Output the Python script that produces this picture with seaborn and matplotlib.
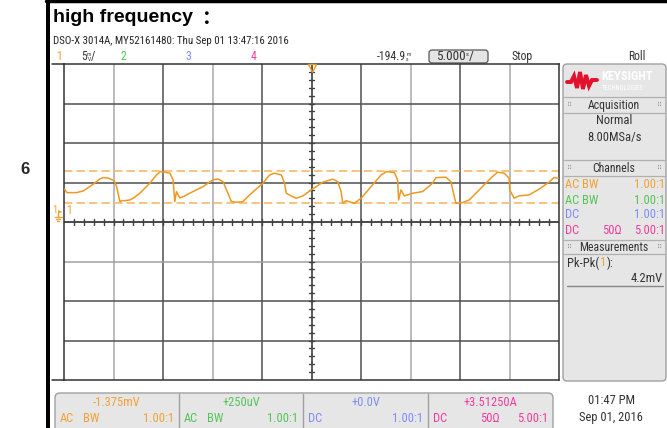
import numpy as np
import pandas as pd
import matplotlib
matplotlib.use("Agg")
import matplotlib.pyplot as plt
import seaborn as sns
from matplotlib.patches import FancyBboxPatch, Rectangle
from matplotlib.lines import Line2D
import logging
logging.getLogger("matplotlib.font_manager").setLevel(logging.ERROR)

time_s = [-24.93, -24.73, -23.72, -23.05, -22.05, -21.37, -21.04, -20.53, -19.93, -19.69,
          -19.35, -19.18, -18.85, -18.35, -18.01, -17.34, -16.33, -15.66, -15.25, -14.82,
          -14.31, -13.98, -13.81, -13.64, -13.31, -12.97, -11.97, -10.96, -9.95, -9.45,
          -8.94, -8.44, -8.09, -7.59, -6.93, -6.25, -4.91, -4.23, -3.73, -3.05,
          -2.72, -2.55, -2.05, -1.54, -0.88, -0.03, 1.14, 2.15, 2.65, 2.99,
          3.16, 3.50, 4.33, 5.01, 6.02, 7.03, 7.59, 8.37, 8.70, 8.80,
          9.04, 9.38, 10.21, 11.22, 12.23, 12.57, 13.58, 14.08, 14.42, 14.59,
          15.25, 15.93, 17.27, 18.11, 18.78, 19.46, 19.96, 20.03, 20.46, 20.97,
          21.98, 22.98, 23.99, 24.50, 24.93]
ch1_mv = [4.15, 3.72, 3.72, 3.93, 4.78, 5.46, 5.62, 5.55, 5.24, 4.48,
          2.58, 2.70, 2.70, 2.79, 3.01, 3.64, 4.91, 5.96, 6.38, 6.31,
          6.18, 5.33, 2.58, 3.85, 3.05, 3.21, 3.85, 4.48, 5.33, 5.46,
          5.11, 3.64, 2.58, 2.50, 2.58, 3.43, 4.91, 5.96, 6.18, 5.96,
          4.91, 3.64, 3.30, 3.01, 3.30, 4.06, 5.04, 5.42, 5.11, 3.85,
          2.37, 2.70, 2.37, 3.01, 4.48, 5.96, 6.38, 6.26, 5.33, 2.79,
          4.06, 3.30, 3.64, 3.85, 4.91, 5.62, 5.67, 5.11, 3.21, 2.37,
          2.45, 2.79, 4.48, 5.55, 6.31, 6.18, 5.55, 4.06, 3.01, 3.30,
          3.43, 4.15, 5.04, 5.62, 5.55]
cursor_mv = [6.51, 2.37]
ground_mv = 1.375

channel_colors = ["#f2a134", "#55c455", "#7f8cf5", "#f23c9c"]
coupling = ["AC BW", "AC BW", "DC", "DC"]
impedance = ["", "", "", "50Ω"]
probe = ["1.00:1", "1.00:1", "1.00:1", "5.00:1"]
offsets = ["-1.375mV", "+250uV", "+0.0V", "+3.51250A"]

title = "high frequency"
title_colon = "："
header = "DSO-X 3014A, MY52161480: Thu Sep 01 13:47:16 2016"
row_label = "6"

# ---------------- styling ----------------
sns.set_theme(style="white")
NARROW = ["Roboto Condensed", "Archivo Narrow", "Barlow Condensed", "DejaVu Sans"]
plt.rcParams["font.family"] = NARROW

W, H = 667, 428
fig = plt.figure(figsize=(W / 100, H / 100), dpi=100)
fig.patch.set_facecolor("white")
renderer = fig.canvas.get_renderer()


def fx(x):
    return x / W


def fy(y):
    return 1 - y / H


def T(x, y, s, size=8, color="#333333", ha="left", **kw):
    return fig.text(fx(x), fy(y), s, fontsize=size, color=color, ha=ha, va="center",
                    zorder=10, **kw)


def chain(x, y, pieces, size=8.5, gap=0.0):
    """place text pieces one after another; pieces = (text, color, dy, size)"""
    for s, col, dy, sz in pieces:
        t = T(x, y + dy, s, size=sz or size, color=col)
        bb = t.get_window_extent(renderer)
        x = bb.x1 + gap


def rbox(x0, y0, x1, y1, r, fc, ec, lw=1.0, z=0):
    p = FancyBboxPatch((x0 / 100, (H - y1) / 100), (x1 - x0) / 100, (y1 - y0) / 100,
                       boxstyle=f"round,pad=0,rounding_size={r / 100}",
                       transform=fig.dpi_scale_trans, fc=fc, ec=ec, lw=lw, zorder=z)
    fig.add_artist(p)


def pline(xs, ys, color, lw=1.0, z=5, **kw):
    fig.add_artist(Line2D([fx(x) for x in xs], [fy(y) for y in ys],
                          transform=fig.transFigure, color=color, lw=lw, zorder=z, **kw))


DARK = "#333333"

# document table borders
fig.add_artist(Rectangle((fx(46), 0), fx(50) - fx(46), 1, transform=fig.transFigure,
                         fc="black", ec="none"))
pline([46, 667], [1, 1], "black", lw=2.5)
fig.text(fx(25), fy(170), row_label, fontsize=12, fontweight="bold", ha="center",
         va="center", family=["Liberation Sans", "DejaVu Sans"])

# title & header
fig.text(fx(53), fy(18), title, fontsize=14, fontweight="bold", ha="left", va="center",
         family=["Liberation Sans", "DejaVu Sans"], color="black")
fig.text(fx(202), fy(18), title_colon, fontsize=14, fontweight="bold", ha="left",
         va="center", family=["Noto Sans CJK SC", "DejaVu Sans"], color="black")
T(53, 41, header, size=7.8, color="#222222")

# status row
T(56, 57, "1", size=8.5, color=channel_colors[0])
chain(81, 57, [("5", DARK, 0, 8.5), ("m", DARK, -2.5, 4)])
T(87.5, 59.5, "V", size=4, color=DARK)
T(91, 57, "/", size=8.5, color=DARK)
T(120, 57, "2", size=8.5, color=channel_colors[1])
T(186, 57, "3", size=8.5, color=channel_colors[2])
T(251, 57, "4", size=8.5, color=channel_colors[3])
chain(377, 57, [("-194.9", DARK, 0, 8.5), ("m", DARK, -2.5, 4)], gap=0.5)
T(406, 59.5, "s", size=4, color=DARK)
rbox(429, 50, 488, 63, 3, "#e4e4e4", "#555555", lw=0.9)
chain(436, 57, [("5.000", DARK, 0, 9.5), ("s", DARK, -2.5, 4.5), ("/", DARK, 0, 9.5)],
      gap=0.3)
T(512, 57, "Stop", size=8.5, color=DARK)
T(628, 57, "Roll", size=8.5, color=DARK)

# ---------------- scope graticule ----------------
ax = fig.add_axes([fx(64), fy(380), fx(559) - fx(64), (380 - 64) / H])
ax.set_xlim(-25, 25)
ax.set_ylim(-20, 20)
ax.set_facecolor("white")
for i, xv in enumerate(range(-20, 25, 5)):
    ax.axvline(xv, color="#a8a8a8" if i % 2 == 0 else "#505050", lw=1.1, zorder=1)
for i, yv in enumerate(range(-15, 20, 5)):
    ax.axhline(yv, color="#505050" if yv != -5 else "#a0a0a0", lw=1.1, zorder=1)
ax.axhline(0, color="#404040", lw=1.1, zorder=1)
ax.axvline(0, color="#404040", lw=1.1, zorder=1)
for t in range(-24, 25):
    ax.plot([t, t], [-0.38, 0.38], color="#404040", lw=1.0, zorder=1)
for v in range(-19, 20):
    ax.plot([-0.3, 0.3], [v, v], color="#404040", lw=1.0, zorder=1)
for s in ax.spines.values():
    s.set_color(DARK)
    s.set_linewidth(1.1)
    s.set_visible(True)

for c in cursor_mv:
    ax.axhline(c, color="#f8b868", lw=1.2, ls=(0, (5, 2.5)), zorder=2)

df = pd.DataFrame({"time_s": time_s, "ch1_mv": ch1_mv})
sns.lineplot(data=df, x="time_s", y="ch1_mv", ax=ax, color="#ee9920", lw=1.1,
             estimator=None, sort=False, legend=False, zorder=3)
ax.plot(0, 19.55, marker="v", ms=6, mfc="none", mec="#ee9920", mew=1.0,
        clip_on=False, zorder=4)
ax.set_xlabel("")
ax.set_ylabel("")
ax.set_xticks([])
ax.set_yticks([])

# frame extensions on the left
pline([52, 64], [64, 64], DARK, lw=1.1)
pline([52, 64], [380, 380], DARK, lw=1.1)

# ground marker of channel 1
gy = 222 - ground_mv * 7.88
o = channel_colors[0]
T(52.5, gy - 1, "1", size=7.5, color=o)
T(57.5, gy - 1, "▸", size=6, color=o, family=["DejaVu Sans"])
T(66.5, gy - 1, "1", size=8.5, color=o)
pline([58, 58], [gy + 2, gy + 6], o, lw=1.0, z=11)
pline([54.5, 61.5], [gy + 6, gy + 6], o, lw=1.0, z=11)
pline([56, 60], [gy + 8, gy + 8], o, lw=1.0, z=11)
pline([57.3, 58.7], [gy + 10, gy + 10], o, lw=1.0, z=11)

# ---------------- right side panel ----------------
rbox(563, 64, 666, 381, 4, "#e6e6e6", "#a0a0a0", lw=1.0)
pline([567, 571, 574, 577, 580, 583, 586, 589, 592, 597],
      [82, 82, 76, 88, 72, 89, 75, 86, 80, 80], "#e5102b", lw=2.8,
      solid_joinstyle="miter")
T(601, 77, "KEYSIGHT", size=9, color="white", fontweight="bold")
T(602, 88, "TECHNOLOGIES", size=4.8, color="white")

for (ytop, ybot, name, ymid) in [(97, 113, "Acquisition", 105),
                                  (160, 176, "Channels", 168),
                                  (240, 254, "Measurements", 247)]:
    pline([564, 665], [ytop, ytop], "#b0b0b0", lw=0.9)
    pline([564, 665], [ybot, ybot], "#b0b0b0", lw=0.9)
    T(614, ymid, name, size=8.5, ha="center", color=DARK)
    T(567, ymid, "⠿", size=5, color="#999999", family=["DejaVu Sans"])
    T(657, ymid, "⠿", size=5, color="#999999", family=["DejaVu Sans"])

T(614, 120, "Normal", size=9, ha="center", color=DARK)
T(614, 138, "8.00MSa/s", size=9, ha="center", color=DARK)

for i, yy in enumerate([184, 200, 215, 231]):
    col = channel_colors[i]
    T(565, yy, coupling[i], size=9, color=col)
    if impedance[i]:
        T(612, yy, impedance[i], size=9, color=col, ha="center")
    T(665, yy, probe[i], size=9, color=col, ha="right")

chain(567, 263, [("Pk-Pk(", DARK, 0, 9), ("1", o, 0, 9), ("):", DARK, 0, 9)],
      gap=0.6)
T(663, 279, "4.2mV", size=9, ha="right", color=DARK)
pline([567, 663], [286, 286], "#888888", lw=1.0)

# ---------------- bottom channel boxes ----------------
rbox(55, 393, 553, 434, 5, "#e6e6e6", "#a0a0a0", lw=1.0)
seg = [55, 179, 303, 428, 553]
for x in seg[1:-1]:
    pline([x, x], [394, 428], "#a0a0a0", lw=1.0)
for i in range(4):
    x0, x1 = seg[i], seg[i + 1]
    col = channel_colors[i]
    T((x0 + x1) / 2, 402, offsets[i], size=9, color=col, ha="center")
    parts = coupling[i].split()
    T(x0 + 5, 418, parts[0], size=9, color=col)
    if len(parts) > 1:
        T(x0 + 28, 418, parts[1], size=9, color=col)
    if impedance[i]:
        T(x0 + 62, 418, impedance[i], size=9, color=col, ha="center")
    T(x1 - 5, 418, probe[i], size=9, color=col, ha="right")

T(611, 400, "01:47 PM", size=9, ha="center", color=DARK)
T(611, 418, "Sep 01, 2016", size=9, ha="center", color=DARK)

fig.savefig("out.png", dpi=100)
